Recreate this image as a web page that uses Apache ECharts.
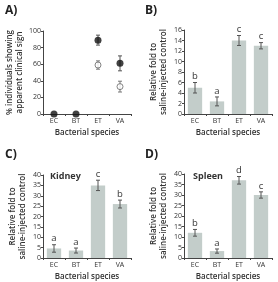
<!DOCTYPE html>
<html><head><meta charset="utf-8">
<script src="https://cdn.jsdelivr.net/npm/echarts@6/dist/echarts.min.js"></script>
<style>html,body{margin:0;padding:0;background:#fff}#c{width:278px;height:282px}</style>
</head><body><div id="c"></div>
<script>
const categories = ['EC','BT','ET','VA'];
// Panel A
const aFilled = [0, 0, 89, 61];
const aFilledErr = [0, 0, 6, 9];
const aOpen = [null, null, 59, 33];
const aOpenErr = [0, 0, 5, 6.5];
const aTicks = [0, 20, 40, 60, 80, 100];
// Panel B
const bVals = [5.0, 2.4, 14.0, 13.0];
const bErr = [1.0, 0.85, 0.95, 0.6];
const bLetters = ['b', 'a', 'c', 'c'];
// Panel C (Kidney)
const cVals = [4.6, 3.6, 35, 26];
const cErr = [1.8, 1.2, 2.5, 1.9];
const cLetters = ['a', 'a', 'c', 'b'];
// Panel D (Spleen)
const dVals = [12, 3.3, 37, 30];
const dErr = [1.6, 1.0, 1.8, 1.5];
const dLetters = ['b', 'a', 'd', 'c'];

const FONT = 'Open Sans';
const AX = '#444';
const BAR = '#c3cdca';

const grids = [
  {left: 43, top: 31, width: 88, height: 83},
  {left: 184, top: 30, width: 88, height: 84},
  {left: 43, top: 175, width: 88, height: 83},
  {left: 184, top: 174, width: 88, height: 84}
];

function xAxis(i) {
  return {
    type: 'category', gridIndex: i, data: categories,
    name: 'Bacterial species', nameLocation: 'middle', nameGap: 15,
    nameTextStyle: {fontFamily: FONT, fontSize: 8, fontWeight: 600, color: '#333'},
    axisLine: {lineStyle: {color: AX, width: 1}},
    axisTick: {show: true, length: 2, lineStyle: {color: AX}},
    axisLabel: {fontFamily: FONT, fontSize: 7, color: '#333', margin: 3},
    splitLine: {show: false}
  };
}
function yAxis(i, max, interval, name1, name2) {
  return {
    type: 'value', gridIndex: i, min: 0, max: max, interval: interval,
    name: name1 + '\n' + name2, nameLocation: 'middle', nameGap: 15, nameRotate: 90,
    nameTextStyle: {fontFamily: FONT, fontSize: 8, fontWeight: 600, color: '#333', lineHeight: 10.5},
    axisLine: {show: true, lineStyle: {color: AX, width: 1}},
    axisTick: {show: true, length: 2, lineStyle: {color: AX}},
    axisLabel: {fontFamily: FONT, fontSize: 7, color: '#333', margin: 2},
    splitLine: {show: false}
  };
}

function errSeries(i, vals, errs, letters, color) {
  return {
    type: 'custom', xAxisIndex: i, yAxisIndex: i, clip: false, z: 10,
    data: vals.map((v, k) => [k, v, errs[k]]).filter(d => d[1] !== null),
    renderItem: function (params, api) {
      const k = api.value(0), v = api.value(1), e = api.value(2);
      const c = api.coord([k, v]);
      const hi = api.coord([k, v + e]);
      const lo = api.coord([k, v - e]);
      const w = 2;
      const children = [];
      if (e > 0) {
        children.push({type: 'line', shape: {x1: c[0], y1: hi[1], x2: c[0], y2: lo[1]}, style: {stroke: color, lineWidth: 1}});
        children.push({type: 'line', shape: {x1: c[0] - w, y1: hi[1], x2: c[0] + w, y2: hi[1]}, style: {stroke: color, lineWidth: 1}});
        children.push({type: 'line', shape: {x1: c[0] - w, y1: lo[1], x2: c[0] + w, y2: lo[1]}, style: {stroke: color, lineWidth: 1}});
      }
      if (letters) {
        children.push({type: 'text', x: c[0], y: hi[1] - 1, style: {text: letters[k], fontFamily: FONT, fontSize: 9.5, fill: '#333', align: 'center', verticalAlign: 'bottom'}});
      }
      return {type: 'group', children: children};
    }
  };
}

function barSeries(i, vals) {
  return {type: 'bar', xAxisIndex: i, yAxisIndex: i, data: vals, barWidth: '65%',
    itemStyle: {color: BAR}, silent: true};
}

const chart = echarts.init(document.getElementById('c'), null, {renderer: 'canvas'});
chart.setOption({
  animation: false,
  grid: grids,
  xAxis: [xAxis(0), xAxis(1), xAxis(2), xAxis(3)],
  yAxis: [
    yAxis(0, 100, 20, '% individuals showing', 'apparent clinical sign'),
    yAxis(1, 16, 2, 'Relative fold to', 'saline-injected control'),
    yAxis(2, 40, 5, 'Relative fold to', 'saline-injected control'),
    yAxis(3, 40, 5, 'Relative fold to', 'saline-injected control')
  ],
  graphic: [
    {type: 'text', left: 5, top: 5, style: {text: 'A)', fontFamily: FONT, fontSize: 12, fontWeight: 'bold', fill: '#222'}},
    {type: 'text', left: 145, top: 5, style: {text: 'B)', fontFamily: FONT, fontSize: 12, fontWeight: 'bold', fill: '#222'}},
    {type: 'text', left: 5, top: 149, style: {text: 'C)', fontFamily: FONT, fontSize: 12, fontWeight: 'bold', fill: '#222'}},
    {type: 'text', left: 145, top: 149, style: {text: 'D)', fontFamily: FONT, fontSize: 12, fontWeight: 'bold', fill: '#222'}},
    {type: 'text', left: 50, top: 172, style: {text: 'Kidney', fontFamily: FONT, fontSize: 9, fontWeight: 'bold', fill: '#333'}},
    {type: 'text', left: 193, top: 172, style: {text: 'Spleen', fontFamily: FONT, fontSize: 9, fontWeight: 'bold', fill: '#333'}}
  ],
  series: [
    errSeries(0, aOpen, aOpenErr, null, '#777'),
    errSeries(0, aFilled, aFilledErr, null, '#555'),
    {type: 'scatter', xAxisIndex: 0, yAxisIndex: 0, data: aOpen, symbol: 'circle', symbolSize: 6, clip: false, z: 11,
      itemStyle: {color: '#fff', borderColor: '#666', borderWidth: 1}},
    {type: 'scatter', xAxisIndex: 0, yAxisIndex: 0, data: aFilled, symbol: 'circle', symbolSize: 7, clip: false, z: 12,
      itemStyle: {color: '#111'}},
    barSeries(1, bVals), errSeries(1, bVals, bErr, bLetters, '#555'),
    barSeries(2, cVals), errSeries(2, cVals, cErr, cLetters, '#555'),
    barSeries(3, dVals), errSeries(3, dVals, dErr, dLetters, '#555')
  ]
});
</script></body></html>
